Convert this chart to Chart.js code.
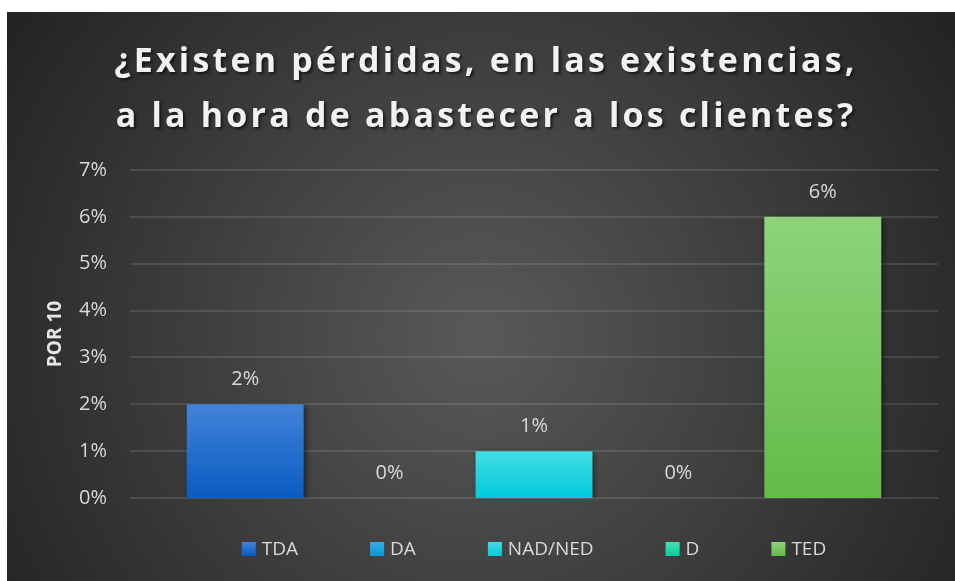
<!DOCTYPE html>
<html lang="es">
<head>
<meta charset="utf-8">
<title>¿Existen pérdidas, en las existencias?</title>
<script src="https://cdn.jsdelivr.net/npm/chart.js@4.4.1/dist/chart.umd.min.js"></script>
<style>
  html, body { margin: 0; padding: 0; background: #fff; }
  #wrap { position: absolute; left: 7px; top: 12px; width: 948px; height: 569px; }
</style>
</head>
<body>
<div id="wrap"><canvas id="chart"></canvas></div>
<script>
  // Data
  const TITLE_LINES = ['¿Existen pérdidas, en las existencias,', 'a la hora de abastecer a los clientes?'];
  const Y_TITLE = 'POR 10';
  const CATEGORIES = ['TDA', 'DA', 'NAD/NED', 'D', 'TED'];
  const VALUES = [2, 0, 1, 0, 6];
  const Y_TICKS = [0, 1, 2, 3, 4, 5, 6, 7];

  // Bar colours (gradient top -> bottom)
  const COLOR_TOP = ['#4283d9', '#35ace6', '#45dde6', '#45dfb4', '#8ed37b'];
  const COLOR_BOTTOM = ['#0a5bc2', '#0a97da', '#00cadb', '#00cf98', '#63bb48'];

  const FONT = "'Open Sans', 'DejaVu Sans', sans-serif";
  const TEXT_COLOR = '#d9d9d9';

  function barGradient(ctx, i, top, bottom) {
    const g = ctx.createLinearGradient(0, top, 0, bottom);
    g.addColorStop(0, COLOR_TOP[i]);
    g.addColorStop(1, COLOR_BOTTOM[i]);
    return g;
  }

  // Dark radial background, extended gridlines, bar shadow
  const backdrop = {
    id: 'backdrop',
    beforeDraw(chart) {
      const { ctx, width, height } = chart;
      const g = ctx.createRadialGradient(width / 2, height * 0.57, 0, width / 2, height * 0.57, 560);
      g.addColorStop(0, '#595959');
      g.addColorStop(1, '#242424');
      ctx.save();
      ctx.fillStyle = g;
      ctx.fillRect(0, 0, width, height);
      ctx.restore();
    },
    beforeDatasetsDraw(chart) {
      const { ctx, chartArea } = chart;
      const y = chart.scales.y;
      const ext = 43;
      ctx.save();
      ctx.strokeStyle = 'rgba(255,255,255,0.11)';
      ctx.lineWidth = 2;
      y.ticks.forEach(t => {
        const py = Math.round(y.getPixelForValue(t.value));
        ctx.beginPath();
        ctx.moveTo(chartArea.left - ext, py);
        ctx.lineTo(chartArea.right + ext, py);
        ctx.stroke();
      });
      ctx.restore();
      ctx.save();
      ctx.shadowColor = 'rgba(0,0,0,0.55)';
      ctx.shadowBlur = 6;
      ctx.shadowOffsetX = 2;
      ctx.shadowOffsetY = 2;
    },
    afterDatasetsDraw(chart) {
      chart.ctx.restore();
    }
  };

  // Value labels above the bars
  const valueLabels = {
    id: 'valueLabels',
    afterDatasetsDraw(chart) {
      const { ctx } = chart;
      const meta = chart.getDatasetMeta(0);
      ctx.save();
      ctx.font = '20px ' + FONT;
      ctx.fillStyle = TEXT_COLOR;
      ctx.textAlign = 'center';
      ctx.textBaseline = 'middle';
      meta.data.forEach((bar, i) => {
        ctx.fillText(VALUES[i] + '%', bar.x, bar.y - 25);
      });
      ctx.restore();
    }
  };

  // Title with letter spacing and soft shadow
  const spacedTitle = {
    id: 'spacedTitle',
    afterDraw(chart) {
      const { ctx, width } = chart;
      ctx.save();
      ctx.font = 'bold 34px ' + FONT;
      ctx.letterSpacing = '3.2px';
      ctx.fillStyle = '#f2f2f2';
      ctx.textAlign = 'center';
      ctx.textBaseline = 'alphabetic';
      ctx.shadowColor = 'rgba(0,0,0,0.6)';
      ctx.shadowBlur = 3;
      ctx.shadowOffsetX = 2;
      ctx.shadowOffsetY = 2;
      TITLE_LINES.forEach((line, i) => ctx.fillText(line, width / 2 + 5, 60 + i * 55));
      ctx.restore();
    }
  };

  // Category legend at the bottom, centred under the plot
  const categoryLegend = {
    id: 'categoryLegend',
    afterDraw(chart) {
      const { ctx, chartArea, height } = chart;
      const box = 14, gapText = 6, gapItem = 72;
      ctx.save();
      ctx.font = '19px ' + FONT;
      const widths = CATEGORIES.map(c => ctx.measureText(c).width);
      const total = widths.reduce((s, w) => s + box + gapText + w, 0) + gapItem * (CATEGORIES.length - 1);
      let x = (chartArea.left + chartArea.right) / 2 - total / 2;
      const cy = height - 32;
      ctx.textAlign = 'left';
      ctx.textBaseline = 'middle';
      CATEGORIES.forEach((c, i) => {
        ctx.fillStyle = barGradient(ctx, i, cy - box / 2, cy + box / 2);
        ctx.fillRect(x, cy - box / 2, box, box);
        ctx.fillStyle = TEXT_COLOR;
        ctx.fillText(c, x + box + gapText, cy + 1);
        x += box + gapText + widths[i] + gapItem;
      });
      ctx.restore();
    }
  };

  new Chart(document.getElementById('chart'), {
    type: 'bar',
    data: {
      labels: CATEGORIES,
      datasets: [{
        label: Y_TITLE,
        data: VALUES,
        backgroundColor: function(context) {
          const chart = context.chart;
          const y = chart.scales && chart.scales.y;
          const i = context.dataIndex;
          if (!y || !chart.chartArea) return COLOR_BOTTOM[i];
          const top = y.getPixelForValue(VALUES[i]);
          const bottom = y.getPixelForValue(0);
          if (bottom - top < 1) return COLOR_BOTTOM[i];
          return barGradient(chart.ctx, i, top, bottom);
        },
        borderWidth: 0,
        categoryPercentage: 1,
        barPercentage: 0.81
      }]
    },
    options: {
      responsive: true,
      maintainAspectRatio: false,
      animation: false,
      layout: {
        padding: { left: 33, right: 60, top: 158, bottom: 83 }
      },
      plugins: {
        legend: { display: false },
        title: { display: false },
        tooltip: { enabled: false }
      },
      scales: {
        x: {
          display: false
        },
        y: {
          min: Y_TICKS[0],
          max: Y_TICKS[Y_TICKS.length - 1],
          border: { display: false },
          grid: { display: false, drawTicks: false },
          ticks: {
            stepSize: 1,
            padding: 66,
            color: TEXT_COLOR,
            font: { family: FONT, size: 20 },
            callback: v => v + '%'
          },
          title: {
            display: true,
            text: Y_TITLE,
            color: '#e6e6e6',
            font: { family: FONT, size: 19, weight: 'bold' },
            padding: { top: 4, bottom: 0 }
          },
          afterFit(scale) {
            scale.width = 133;
          }
        }
      }
    },
    plugins: [backdrop, valueLabels, spacedTitle, categoryLegend]
  });
</script>
</body>
</html>
